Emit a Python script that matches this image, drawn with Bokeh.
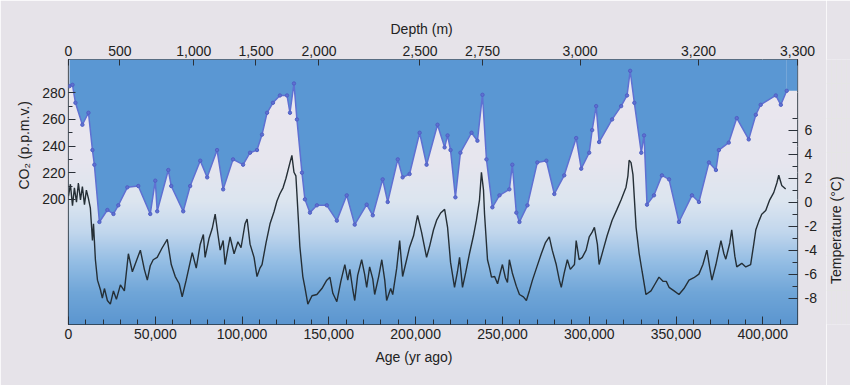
import numpy as np
from bokeh.plotting import figure
from bokeh.layouts import row
from bokeh.models import Range1d, LinearAxis, FixedTicker, Title
from bokeh.embed import file_html
from bokeh.resources import INLINE
from bokeh.core.properties import value

# ---------------- data ----------------
co2_age = [600, 2300, 4000, 8000, 11500, 13800, 14900, 17800, 22400, 25900, 28700,
           33900, 40200, 47100, 50000, 51100, 57500, 59200, 66100, 70100, 75900,
           79900, 85600, 89100, 94800, 100600, 104600, 108600, 111500, 114400,
           117800, 121800, 125900, 127600, 129900, 131600, 134500, 136200, 139100,
           143100, 148800, 154600, 160300, 164900, 171800, 175300, 181000, 183900,
           189700, 192500, 196500, 202300, 206300, 212600, 216700, 218400, 220100,
           222900, 225800, 232200, 235600, 238500, 240800, 244200, 248300, 254000,
           255700, 258000, 259800, 264400, 270100, 275300, 279900, 285600, 292500,
           295400, 300000, 301700, 304000, 305700, 313200, 318400, 321800, 323600,
           326000, 330000, 331600, 333300, 337300, 341900, 346000, 351700, 359200,
           363200, 369000, 373000, 374700, 380400, 385000, 391900, 396000, 398800,
           407500, 410400, 413800]
co2_ppmv = [285, 286, 272.5, 256, 265, 237, 226, 183, 192, 189, 195.5,
            209, 210, 189, 214, 191, 222, 210, 191, 210, 229,
            216.5, 237, 207.5, 230, 226, 235, 237, 248.6, 265,
            272.5, 278, 278, 265, 287, 260, 220, 200, 190,
            195.5, 195.5, 184, 203, 181, 196, 188, 215, 198,
            230, 216.5, 219, 250, 226, 256, 239, 248, 237,
            201.5, 235, 250, 244, 278.5, 230, 194, 203, 207.5,
            226, 190, 183, 195.5, 227.7, 229, 204, 218, 246,
            223, 235, 252, 270, 243, 260, 270, 278, 296.5,
            272.5, 235, 248, 196, 203, 218, 215, 183, 203,
            198, 227.7, 222, 237, 242.6, 261, 245, 263.5, 271,
            278, 271, 281.5]

temp_age = [0, 1100, 2300, 3400, 4600, 5700, 6900, 8000, 9200, 10300, 11500, 12600,
            13800, 14400, 15500, 16700, 18400, 19500, 20700, 22400, 24100, 25900,
            27600, 29900, 32200, 34500, 36800, 39100, 41400, 43700, 45400, 47100,
            48800, 51100, 54000, 56900, 59200, 61500, 63800, 65500, 67800, 70100,
            71300, 73600, 75900, 77700, 78700, 81000, 82800, 84500, 86200, 87400,
            89100, 90200, 91900, 93100, 95400, 97600, 99400, 101700, 102900, 104600,
            106900, 108600, 110300, 111500, 113800, 116100, 118400, 120100, 121800,
            123600, 125300, 127600, 128700, 129900, 131000, 131600, 133300, 135000,
            136200, 137900, 140300, 143100, 146000, 148800, 150600, 152300, 154600,
            156900, 159200, 160900, 162100, 163800, 164900, 166600, 168900, 170600,
            171800, 173500, 175300, 176400, 178700, 180500, 182200, 183300, 185600,
            186800, 189100, 190800, 192500, 194800, 196500, 198800, 201100, 203400,
            206300, 208000, 210300, 212100, 214400, 216700, 218400, 220100, 222400,
            224100, 225300, 227000, 228800, 231000, 233300, 235000, 236800, 237900,
            239100, 239700, 241400, 242600, 243700, 245500, 247200, 248900, 250000,
            251700, 252900, 254000, 255700, 258000, 259800, 262100, 263800, 265500,
            267300, 269600, 272400, 274700, 277000, 278700, 281000, 282800, 283900,
            285600, 287400, 289100, 291500, 292500, 294200, 296000, 298200, 300000,
            301700, 303000, 304700, 305700, 308000, 310300, 313200, 316000, 318400,
            321200, 322300, 323000, 324100, 325200, 327000, 328800, 330500, 332700,
            335600, 338000, 340200, 342500, 344400, 346000, 348900, 351700, 354600,
            357500, 360300, 363200, 365500, 367800, 369600, 370700, 373000, 375900,
            377600, 378700, 381000, 382100, 383900, 385000, 387900, 390200, 393000,
            394800, 396000, 397700, 399400, 401700, 404000, 406300, 408100, 409200,
            410300, 410900, 413200]
temp_c = [0.5, 1.5, -0.3, 1.2, 0.0, 1.6, 0.2, 1.3, -0.2, 1.0, 0.3, -0.5,
          -3.2, -1.8, -4.8, -6.5, -7.3, -8.0, -7.2, -8.2, -8.5, -7.4,
          -8.1, -6.9, -7.4, -4.3, -5.8, -4.9, -4.0, -5.6, -6.5, -5.3,
          -4.8, -4.6, -3.8, -3.1, -5.2, -6.2, -6.8, -7.9, -6.5, -5.0,
          -4.2, -5.5, -3.5, -2.7, -4.6, -3.0, -2.2, -1.0, -2.8, -4.0,
          -3.2, -5.2, -3.8, -2.9, -4.3, -3.3, -3.8, -1.8, -1.4, -3.5,
          -4.6, -6.2, -5.5, -5.2, -3.4, -1.8, -0.8, 0.1, 0.7,
          1.2, 2.0, 3.3, 3.9, 2.5, 2.2, 0.7, -3.7, -6.2,
          -7.1, -8.5, -7.8, -7.7, -7.2, -6.5, -6.25, -7.6, -8.3,
          -6.6, -5.2, -6.5, -5.6, -7.3, -8.2, -6.1, -4.8, -6.0,
          -7.1, -5.4, -6.4, -7.7, -6.2, -4.8, -6.5, -8.2, -7.2,
          -7.7, -5.5, -3.2, -6.2, -4.8, -3.75, -2.8, -1.1, -2.5,
          -4.6, -3.7, -2.3, -1.5, -0.9, -0.6, -2.1, -5.0, -7.1,
          -5.8, -4.6, -7.1, -5.9, -4.3, -2.8, -1.5, 0.2, 2.5,
          1.0, -1.0, -4.8, -5.5, -6.25, -6.2, -6.8, -5.8, -5.2,
          -6.3, -6.7, -4.8, -5.9, -7.0, -7.7, -7.9, -8.2, -7.4,
          -6.5, -5.5, -4.3, -3.4, -2.9, -4.0, -5.2, -6.5, -7.1,
          -5.9, -4.8, -5.6, -5.2, -3.2, -4.8, -4.6, -4.0, -2.9,
          -2.5, -2.1, -3.5, -5.2, -4.0, -2.8, -1.5, -0.6, 0.2,
          1.25, 2.2, 3.5, 3.3, 2.3, -2.1, -4.3, -5.8, -7.7,
          -7.4, -6.8, -6.25, -6.6, -6.6, -7.1, -7.4, -7.7, -7.2,
          -6.5, -6.3, -6.0, -5.2, -4.0, -5.6, -6.5, -5.2, -3.2,
          -4.3, -4.75, -3.4, -2.3, -4.5, -5.4, -5.1, -5.4, -5.2,
          -3.5, -2.3, -1.6, -1.0, -0.7, 0.2, 0.8, 1.6, 2.25,
          1.7, 1.4, 1.1]

age_ticks = [0, 50000, 100000, 150000, 200000, 250000, 300000, 350000, 400000]
age_tick_labels = ["0", "50,000", "100,000", "150,000", "200,000", "250,000",
                   "300,000", "350,000", "400,000"]
depth_tick_ages = [0, 29600, 72200, 108000, 144300, 202500, 238600, 294700, 363000, 420000]
depth_tick_labels = ["0", "500", "1,000", "1,500", "2,000", "2,500", "2,750",
                     "3,000", "3,200", "3,300"]
co2_ticks = [200, 220, 240, 260, 280]
co2_tick_labels = ["200", "220", "240", "260", "280"]
temp_ticks = [-8, -6, -4, -2, 0, 2, 4, 6]
temp_tick_labels = ["-8", "-6", "-4", "-2", "0", "2", "4", "6"]

title_depth = "Depth (m)"
title_age = "Age (yr ago)"
title_co2 = "CO\u2082 (p.p.m.v.)"
title_temp = "Temperature (\u00b0C)"

# ---------------- figure ----------------
X_MAX = 420000
CO2_LO, CO2_HI = 106, 305
T_LO, T_HI = -10.2, 11.9

PAPER = "#e6e3e9"
INK = "#222222"
FONT = "Liberation Sans"

H_FIG = 385
W_MAIN, W_SIDE = 826, 24
FR_L, FR_R, FR_T, FR_B = 68, 797, 59, 324

p = figure(width=W_MAIN, height=H_FIG, x_range=Range1d(0, X_MAX),
           y_range=Range1d(CO2_LO, CO2_HI),
           x_axis_location=None, y_axis_location=None,
           output_backend="svg", toolbar_location=None,
           min_border_left=FR_L, min_border_right=W_MAIN - FR_R,
           min_border_top=FR_T, min_border_bottom=H_FIG - FR_B)
p.extra_y_ranges = {"temp": Range1d(T_LO, T_HI)}
p.background_fill_color = PAPER
p.border_fill_color = PAPER
p.outline_line_color = "#26313a"
p.outline_line_width = 1.2

# vertical colour gradient of the plotting area
NG = 400
f = np.linspace(0.0, 1.0, NG)
stop_f = [0.0, 0.12, 0.24, 0.35, 0.46, 0.62, 1.0]
stop_c = np.array([[92, 150, 208], [112, 166, 216], [150, 191, 229],
                   [194, 215, 237], [220, 229, 240], [231, 230, 238],
                   [236, 232, 238]], dtype=float)
img = np.zeros((NG, 2), dtype=np.uint32)
view = img.view(dtype=np.uint8).reshape((NG, 2, 4))
for k in range(3):
    view[:, :, k] = np.interp(f, stop_f, stop_c[:, k])[:, None].astype(np.uint8)
view[:, :, 3] = 255
p.image_rgba(image=[img], x=0, y=CO2_LO, dw=X_MAX, dh=CO2_HI - CO2_LO)

# blue above the CO2 curve (held flat from the last sample to the frame edge)
BLUE = "#5a97d3"
p.varea(x=co2_age, y1=co2_ppmv, y2=CO2_HI, fill_color=BLUE, fill_alpha=1.0)
p.varea(x=[co2_age[-1], X_MAX], y1=[co2_ppmv[-1], co2_ppmv[-1]], y2=CO2_HI,
        fill_color=BLUE, fill_alpha=1.0)

# temperature
p.line(temp_age, temp_c, y_range_name="temp", line_color="#252f36", line_width=1.4)

# CO2 line with dots
p.line(co2_age, co2_ppmv, line_color="#5f70d2", line_width=1.5)
p.scatter(co2_age, co2_ppmv, size=3.4, fill_color="#5f70d2", line_color="#5060c4")


def style(ax, major_in=7, minor_in=4):
    ax.axis_line_color = None
    ax.major_tick_in = major_in
    ax.major_tick_out = 0
    ax.minor_tick_in = minor_in
    ax.minor_tick_out = 0
    ax.major_tick_line_color = "#2a3038"
    ax.minor_tick_line_color = "#2a3038"
    ax.major_label_text_font = FONT
    ax.major_label_text_font_size = "14px"
    ax.major_label_text_color = INK


bottom = LinearAxis(ticker=FixedTicker(ticks=age_ticks,
                                       minor_ticks=list(range(0, 420000, 10000))),
                    major_label_overrides=dict(zip(age_ticks, age_tick_labels)))
style(bottom, 8, 5)
bottom.major_label_standoff = 4
p.add_layout(bottom, "below")

top = LinearAxis(ticker=FixedTicker(ticks=depth_tick_ages, minor_ticks=[]),
                 major_label_overrides=dict(zip(depth_tick_ages, depth_tick_labels)))
style(top, 6, 0)
top.major_label_standoff = 4
p.add_layout(top, "above")

left = LinearAxis(ticker=FixedTicker(ticks=co2_ticks,
                                     minor_ticks=list(range(200, 290, 10))),
                  major_label_overrides=dict(zip(co2_ticks, co2_tick_labels)),
                  bounds=(195, 285))
style(left, 7, 4)
left.major_label_standoff = 3
p.add_layout(left, "left")

right = LinearAxis(y_range_name="temp",
                   ticker=FixedTicker(ticks=temp_ticks, minor_ticks=list(range(-8, 8))),
                   major_label_overrides=dict(zip(temp_ticks, temp_tick_labels)),
                   bounds=(-9, 7))
style(right, 9, 5)
right.major_label_standoff = 7
p.add_layout(right, "right")


# axis titles, shifted along their side like in the original
def side_title(text, side, offset, standoff):
    t = Title(text=text, align="left", offset=offset, standoff=standoff,
              text_font=FONT, text_font_size="14px", text_font_style="normal",
              text_color=INK)
    p.add_layout(t, side)


side_title(title_depth, "above", 322, 12)
side_title(title_age, "below", 307, 10)
side_title(title_co2, "left", 135, 16)

# narrow strip on the right carrying the temperature title, read bottom-to-top
side = figure(width=W_SIDE, height=H_FIG, x_range=Range1d(0, W_SIDE),
              y_range=Range1d(0, H_FIG), x_axis_location=None, y_axis_location=None,
              output_backend="svg", toolbar_location=None, min_border=0)
side.background_fill_color = PAPER
side.border_fill_color = PAPER
side.outline_line_color = None
side.text(x=[835 - W_MAIN], y=[H_FIG - 248], text=[title_temp], angle=np.pi / 2,
          text_align="center", text_baseline="middle", text_font=value(FONT),
          text_font_size="14px", text_color=INK)

layout = row(p, side, spacing=0)
open("out.html", "w").write(file_html(layout, INLINE))
